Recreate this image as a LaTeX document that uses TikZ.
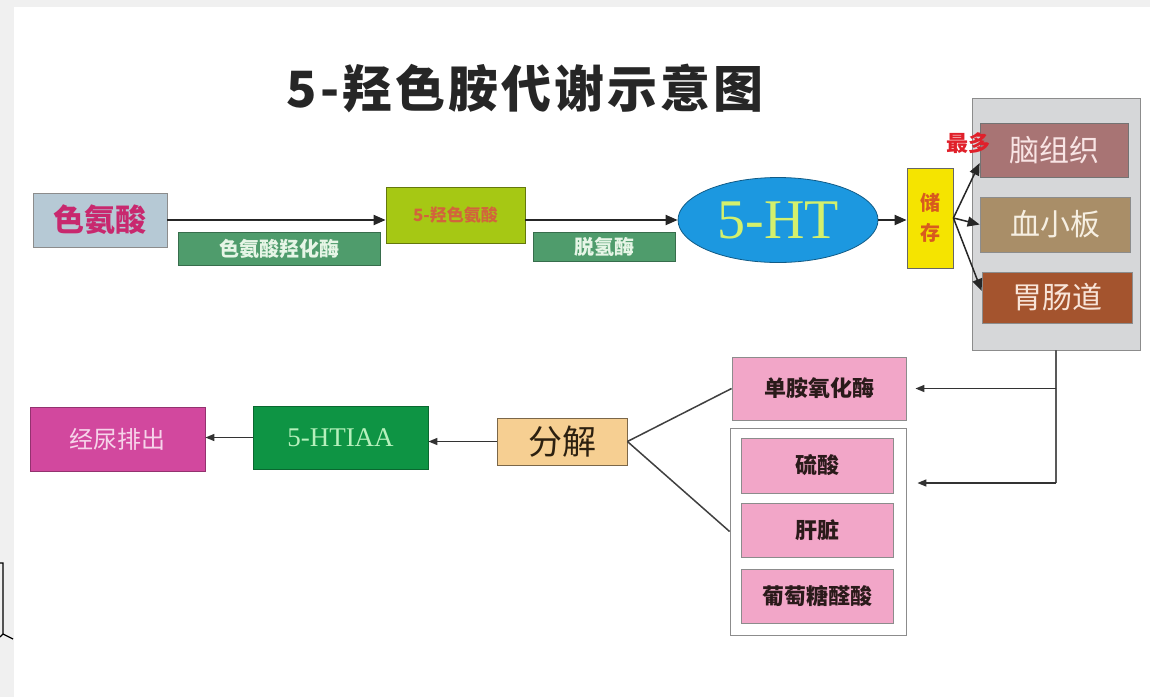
\documentclass[tikz,border=0pt]{standalone}
\usepackage{fontspec}
\setmainfont{Noto Sans CJK SC}
\newfontfamily\tnr{Liberation Serif}
\newfontfamily\titlefont[LetterSpace=6]{Noto Sans CJK SC}
\usetikzlibrary{arrows.meta,shapes.geometric}
\definecolor{bgray}{HTML}{F0F0F0}
\definecolor{trpfill}{HTML}{B6C9D5}
\definecolor{crimson}{HTML}{C8286E}
\definecolor{enzgreen}{HTML}{4F9C6C}
\definecolor{enztext}{HTML}{E6F5E6}
\definecolor{ygreen}{HTML}{A6C814}
\definecolor{htptext}{HTML}{D2643C}
\definecolor{htblue}{HTML}{1C98E0}
\definecolor{httext}{HTML}{D4F06C}
\definecolor{storey}{HTML}{F5E400}
\definecolor{storetext}{HTML}{D85A1E}
\definecolor{grayfill}{HTML}{D6D7D9}
\definecolor{grayline}{HTML}{8C8C8C}
\definecolor{brainc}{HTML}{A87474}
\definecolor{braint}{HTML}{F8E4E4}
\definecolor{pltc}{HTML}{A98E68}
\definecolor{pltt}{HTML}{F6EFE2}
\definecolor{gutc}{HTML}{A4542E}
\definecolor{gutt}{HTML}{F8E4D8}
\definecolor{redtext}{HTML}{E0202A}
\definecolor{pinkc}{HTML}{F2A6C8}
\definecolor{pinkt}{HTML}{2A1A1A}
\definecolor{peach}{HTML}{F6CF92}
\definecolor{peacht}{HTML}{2C2010}
\definecolor{hiaac}{HTML}{0E9444}
\definecolor{hiaat}{HTML}{B6F0BC}
\definecolor{urinec}{HTML}{D2489E}
\definecolor{urinet}{HTML}{F6D4EA}
\newcommand\fsz[1]{\fontsize{#1}{#1}\selectfont}
\begin{document}
\begin{tikzpicture}[x=1pt,y=-1pt,
  box/.style={draw, line width=0.8pt, inner sep=0pt, align=center},
  enz/.style={box, fill=enzgreen, draw=enzgreen!70!black, text=enztext, font=\fsz{20}\bfseries},
  pink/.style={box, fill=pinkc, draw=grayline, text=pinkt, font=\fsz{22}\bfseries},
  arr/.style={-{Triangle[length=12pt,width=10pt]}, line width=2pt, draw=black!85},
  sarr/.style={-{Triangle[length=9pt,width=7pt]}, line width=1.5pt, draw=black!80},
  conn/.style={line width=1.5pt, draw=black!75}]
\useasboundingbox (0,0) rectangle (1150,697);
\fill[bgray] (0,0) rectangle (1150,697);
\fill[white] (14,7) rectangle (1150,697);
% bracket on the left edge
\draw[line width=1.2pt] (0,563) -- (3,563) -- (3,634) -- (0,637) (3,634) -- (13,639);
% title
\node[font=\titlefont\fsz{50}\bfseries, text=black!85] (title) at (525,88) {5-羟色胺代谢示意图};
% top row
\node[box, fill=trpfill, draw=grayline, text=crimson, font=\fsz{31}\bfseries, minimum width=134pt, minimum height=54pt] (trp) at (100,220) {色氨酸};
\node[enz, minimum width=202pt, minimum height=33pt] (e1) at (279,248.5) {色氨酸羟化酶};
\node[box, fill=ygreen, draw=ygreen!60!black, text=htptext, font=\fsz{17}\bfseries, minimum width=139pt, minimum height=56pt] (htp) at (455.5,215) {5-羟色氨酸};
\node[enz, minimum width=142pt, minimum height=29pt] (e2) at (604,246.5) {脱氢酶};
\node[ellipse, draw=htblue!60!black, line width=0.8pt, fill=htblue, text=httext, font=\tnr\fsz{56}, minimum width=200pt, minimum height=85pt, inner sep=0pt] (ht) at (778,220) {5-HT};
\node[box, fill=storey, draw=black!60, text=storetext, font=\fsz{20}\bfseries, minimum width=46pt, minimum height=100pt] (store) at (930,218) {储\\[10pt]存};
\node[box, fill=grayfill, draw=grayline, minimum width=168pt, minimum height=252pt] (gray) at (1056,224) {};
\node[box, fill=brainc, draw=black!55, text=braint, font=\fsz{30}, minimum width=148pt, minimum height=54pt] (brain) at (1054,150) {脑组织};
\node[box, fill=pltc, draw=black!45, text=pltt, font=\fsz{30}, minimum width=150pt, minimum height=55pt] (plt) at (1055,224.5) {血小板};
\node[box, fill=gutc, draw=black!45, text=gutt, font=\fsz{30}, minimum width=150pt, minimum height=51pt] (gut) at (1057,297.5) {胃肠道};
% bottom row
\node[pink, minimum width=174pt, minimum height=63pt] (mao) at (819,388.5) {单胺氧化酶};
\node[box, fill=white, draw=grayline, minimum width=176pt, minimum height=207pt] (wbox) at (818,531.5) {};
\node[pink, minimum width=152pt, minimum height=55pt] (so4) at (817,465.5) {硫酸};
\node[pink, minimum width=152pt, minimum height=54pt] (liver) at (817,530) {肝脏};
\node[pink, minimum width=152pt, minimum height=54pt] (gluc) at (817,596) {葡萄糖醛酸};
\node[box, fill=peach, draw=peach!50!black, text=peacht, font=\fsz{34}, minimum width=130pt, minimum height=47pt] (fenjie) at (562,441.5) {分解};
\node[box, fill=hiaac, draw=hiaac!70!black, text=hiaat, font=\tnr\fsz{27}, minimum width=175pt, minimum height=63pt] (hiaa) at (340.5,437.5) {5-HTIAA};
\node[box, fill=urinec, draw=urinec!70!black, text=urinet, font=\fsz{24}, minimum width=175pt, minimum height=64pt] (urine) at (117.5,439) {经尿排出};
% connectors, top
\draw[arr] (trp.east) -- (trp.east -| htp.west);
\draw[arr] (ht.west -| htp.east) -- (ht.west);
\draw[arr] (ht.east) -- (ht.east -| store.west);
\draw[arr, line width=1.5pt] (store.east) -- (brain.190);
\draw[arr, line width=1.5pt] (store.east) -- (plt.west);
\draw[arr, line width=1.5pt] (store.east) -- (gut.175);
\node[text=redtext, font=\fsz{22}\bfseries] (most) at (968,143) {最多};
% connectors, right side
\coordinate (c1) at (gray.south |- mao.east);
\coordinate (c2) at (1056,483);
\draw[conn, draw=black!65] (gray.south) -- (c2);
\draw[sarr, shorten >=9pt] (c1) -- (mao.east);
\draw[sarr, shorten >=11pt] (c2) -- (c2 -| wbox.east);
% connectors, bottom
\draw[conn] (fenjie.east) -- (mao.west);
\draw[conn] (fenjie.east) -- (wbox.west);
\draw[sarr] (fenjie.west) -- (fenjie.west -| hiaa.east);
\draw[sarr] (hiaa.west) -- (hiaa.west -| urine.east);
\end{tikzpicture}
\end{document}
